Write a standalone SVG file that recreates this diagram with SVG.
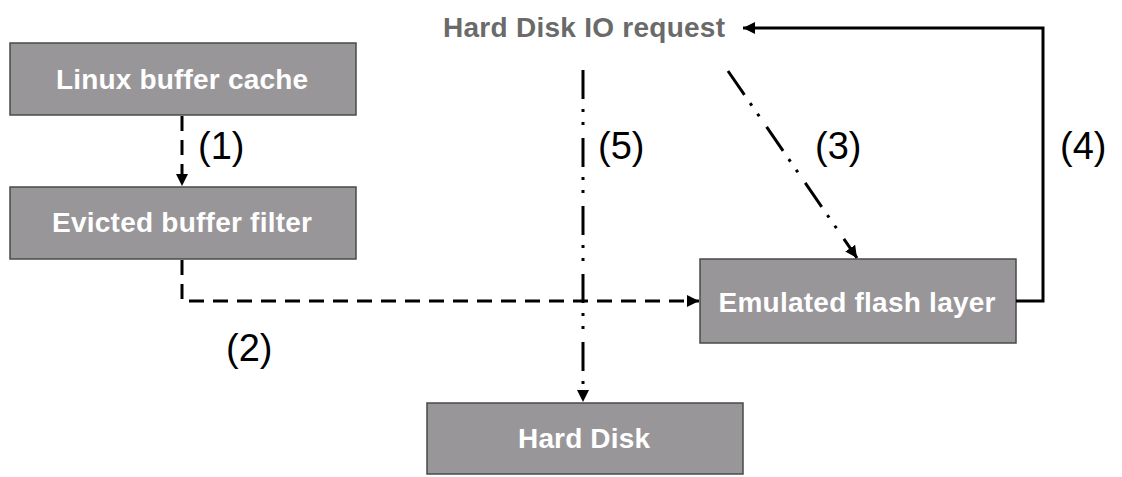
<svg xmlns="http://www.w3.org/2000/svg" width="1122" height="477" viewBox="0 0 1122 477">
<style>
.box{fill:#989698;stroke:#4a4a4a;stroke-width:1.5}
.bt{font-family:"Liberation Sans",Arial,sans-serif;font-weight:bold;font-size:28px;fill:#ffffff;text-anchor:middle}
.lbl{font-family:"Liberation Sans",Arial,sans-serif;font-size:38px;fill:#000000}
.title{font-family:"Liberation Sans",Arial,sans-serif;font-weight:bold;font-size:28px;fill:#6a6a6a}
.c{fill:none;stroke:#000000;stroke-width:3}
.dash{stroke-dasharray:15 9}
.dd{stroke-dasharray:29 10 3 10 3 13}
</style>
<defs>
<marker id="ah" viewBox="0 0 12 12" refX="12" refY="6" markerWidth="12" markerHeight="12" markerUnits="userSpaceOnUse" orient="auto">
<path d="M0,0 L12,6 L0,12 z" fill="#000000"/>
</marker>
</defs>
<rect width="1122" height="477" fill="#ffffff"/>
<g id="title">
<text class="title" x="443" y="37" textLength="282">Hard Disk IO request</text>
</g>
<g id="linux">
<rect class="box" x="10" y="43" width="346" height="72"/>
<text class="bt" x="182" y="89" textLength="252">Linux buffer cache</text>
</g>
<g id="evicted">
<rect class="box" x="10" y="187" width="346" height="72"/>
<text class="bt" x="182" y="232" textLength="260">Evicted buffer filter</text>
</g>
<g id="emulated">
<rect class="box" x="700" y="259" width="316" height="84"/>
<text class="bt" x="857" y="312" textLength="277">Emulated flash layer</text>
</g>
<g id="harddisk">
<rect class="box" x="427" y="403" width="316" height="71"/>
<text class="bt" x="584" y="448" textLength="132">Hard Disk</text>
</g>
<g id="connectors">
<path class="c dash" d="M182,116 L182,186" marker-end="url(#ah)"/>
<path class="c dash" d="M182,260 L182,301 L699,301" marker-end="url(#ah)"/>
<path class="c dd" d="M583,70 L583,402" marker-end="url(#ah)"/>
<path class="c dd" d="M728,71 L857,258" marker-end="url(#ah)"/>
<path class="c" d="M1016,301 L1043,301 L1043,28 L743,28" marker-end="url(#ah)"/>
</g>
<g id="labels">
<text class="lbl" x="198" y="159">(1)</text>
<text class="lbl" x="226" y="361">(2)</text>
<text class="lbl" x="815" y="159">(3)</text>
<text class="lbl" x="1060" y="159">(4)</text>
<text class="lbl" x="598" y="159">(5)</text>
</g>
</svg>
